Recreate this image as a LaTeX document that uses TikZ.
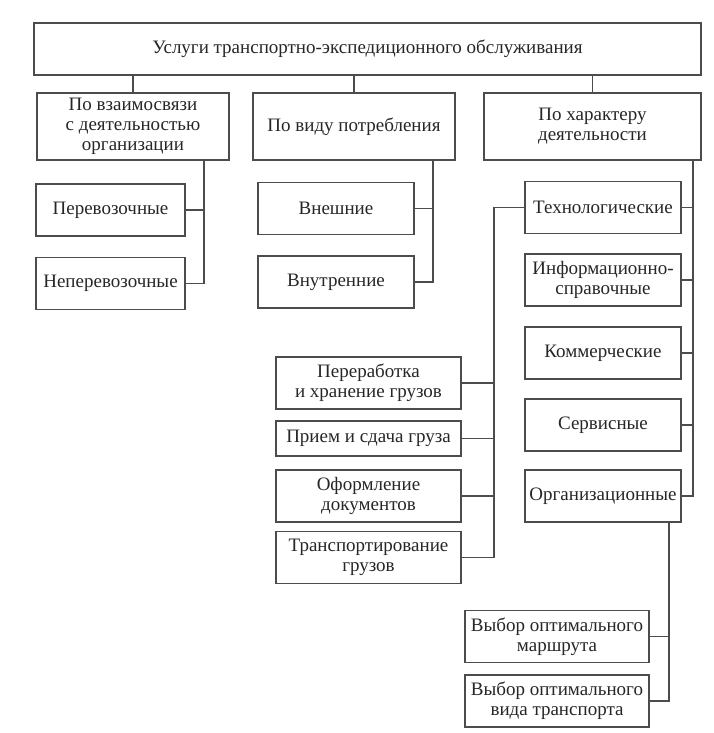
\documentclass[tikz,border=0pt]{standalone}
\usepackage{fontspec}
\setmainfont{Liberation Serif}
\begin{document}
\begin{tikzpicture}[x=1pt,y=-1pt,line width=1.3pt,draw=black!70]
\useasboundingbox (0,0) rectangle (713,733);
\tikzstyle{every node} = [draw=black!70, text=black!85, align=center, inner sep=0pt, minimum height=52pt, font=\fontsize{19}{20}\selectfont]
\tikzstyle{head} = [minimum height=67pt]
% top level
\node[minimum width=667pt] (top) at (367.5,49) {Услуги транспортно-экспедиционного обслуживания};
\node[head, minimum width=192pt] (a) at (133,126.5) {По взаимосвязи\\с деятельностью\\организации};
\node[head, minimum width=202pt] (b) at (354,126.5) {По виду потребления};
\node[head, minimum width=217pt] (c) at (592.5,126.5) {По характеру\\деятельности};
% left column
\node[minimum width=149pt] (a1) at (110.5,210) {Перевозочные};
\node[minimum width=149pt] (a2) at (110.5,283.5) {Неперевозочные};
% middle column
\node[minimum width=156pt] (b1) at (336,208.5) {Внешние};
\node[minimum width=156pt] (b2) at (336,282) {Внутренние};
% right column
\node[minimum width=156pt] (c1) at (603,207.5) {Технологические};
\node[minimum width=156pt] (c2) at (603,280) {Информационно-\\справочные};
\node[minimum width=156pt] (c3) at (603,353) {Коммерческие};
\node[minimum width=156pt] (c4) at (603,425) {Сервисные};
\node[minimum width=156pt] (c5) at (603,496) {Организационные};
% technological services
\node[minimum width=185pt] (d1) at (368.5,383) {Переработка\\и хранение грузов};
\node[minimum width=185pt, minimum height=35pt] (d2) at (368.5,438.5) {Прием и сдача груза};
\node[minimum width=185pt] (d3) at (368.5,496) {Оформление\\документов};
\node[minimum width=185pt] (d4) at (368.5,557.5) {Транспортирование\\грузов};
% organisational services
\node[minimum width=184pt] (e1) at (557,636.5) {Выбор оптимального\\маршрута};
\node[minimum width=184pt] (e2) at (557,701) {Выбор оптимального\\вида транспорта};
\tikzstyle{every node} = []
% bus lines
\coordinate (abus) at (204,160);
\coordinate (bbus) at (433,160);
\coordinate (cbus) at (693,160);
\coordinate (dbus) at (494,208);
\coordinate (ebus) at (669,522);
\draw (top.south -| a) -- (a);
\draw (top.south -| b) -- (b);
\draw (top.south -| c) -- (c);
\draw (abus |- a.south) -- (abus |- a2.east) -- (a2.east);
\draw (a1.east) -- (a1.east -| abus);
\draw (bbus |- b.south) -- (bbus |- b2.east) -- (b2.east);
\draw (b1.east) -- (b1.east -| bbus);
\draw (cbus |- c.south) -- (cbus |- c5.east) -- (c5.east);
\foreach \n in {c1,c2,c3,c4}
  \draw (\n.east) -- (\n.east -| cbus);
\draw (c1.west) -- (dbus |- c1.west) -- (dbus |- d4.east) -- (d4.east);
\foreach \n in {d1,d2,d3}
  \draw (\n.east) -- (\n.east -| dbus);
\draw (ebus |- c5.south) -- (ebus |- e2.east) -- (e2.east);
\draw (e1.east) -- (e1.east -| ebus);
\end{tikzpicture}
\end{document}
